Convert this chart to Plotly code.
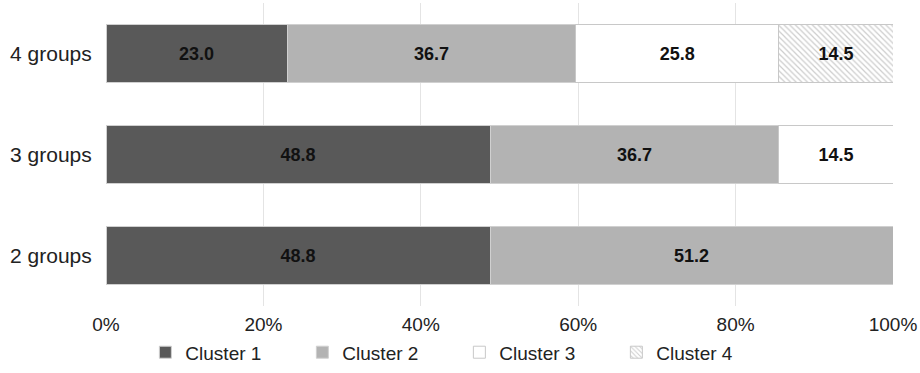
import plotly.graph_objects as go

# Share of observations assigned to each cluster, per solution size
groups = ["2 groups", "3 groups", "4 groups"]
cluster_names = ["Cluster 1", "Cluster 2", "Cluster 3", "Cluster 4"]
cluster1 = [48.8, 48.8, 23.0]
cluster2 = [51.2, 36.7, 36.7]
cluster3 = [None, 14.5, 25.8]
cluster4 = [None, None, 14.5]
tick_vals = [0, 20, 40, 60, 80, 100]
tick_text = ["0%", "20%", "40%", "60%", "80%", "100%"]

series = [cluster1, cluster2, cluster3, cluster4]
fills = ["#595959", "#b3b3b3", "#ffffff", "#ffffff"]
edges = ["#d0d0d0", "#d0d0d0", "#c8c8c8", "#c8c8c8"]

FONT = "Liberation Sans, Arial, sans-serif"

fig = go.Figure()
for i, (name, vals) in enumerate(zip(cluster_names, series)):
    pattern = dict(shape="")
    if i == 3:
        pattern = dict(shape="\\", fgcolor="#9a9a9a", bgcolor="#ffffff",
                       size=4, solidity=0.3, fillmode="overlay")
    fig.add_trace(go.Bar(
        name=name,
        y=groups,
        x=vals,
        orientation="h",
        marker=dict(color=fills[i], line=dict(color=edges[i], width=1),
                    pattern=pattern),
        texttemplate="<b>%{x:.1f}</b>",
        textposition="inside",
        insidetextanchor="middle",
        textfont=dict(family=FONT, size=18, color="#111111"),
        cliponaxis=False,
    ))

fig.update_layout(
    barmode="stack",
    bargap=0.425,
    width=920,
    height=373,
    margin=dict(l=106, r=27, t=3, b=67, autoexpand=False),
    paper_bgcolor="#ffffff",
    plot_bgcolor="#ffffff",
    font=dict(family=FONT, size=20, color="#222222"),
    xaxis=dict(
        range=[0, 100],
        tickvals=tick_vals,
        ticktext=tick_text,
        showgrid=True,
        gridcolor="#e4e4e4",
        gridwidth=1,
        zeroline=False,
        showline=False,
        ticks="outside",
        ticklen=1,
        tickcolor="rgba(0,0,0,0)",
        tickfont=dict(size=19, color="#222222"),
        automargin=False,
    ),
    yaxis=dict(
        showgrid=False,
        zeroline=False,
        showline=False,
        ticks="outside",
        ticklen=9,
        tickcolor="rgba(0,0,0,0)",
        tickfont=dict(size=21, color="#222222"),
        automargin=False,
    ),
    legend=dict(
        orientation="h",
        xref="container",
        x=0.158,
        xanchor="left",
        y=-0.153,
        yanchor="middle",
        traceorder="normal",
        entrywidth=112,
        bgcolor="rgba(0,0,0,0)",
        font=dict(size=19, color="#222222"),
        itemwidth=30,
    ),
    uniformtext=dict(minsize=10, mode="show"),
)

fig.write_html("out.html")
